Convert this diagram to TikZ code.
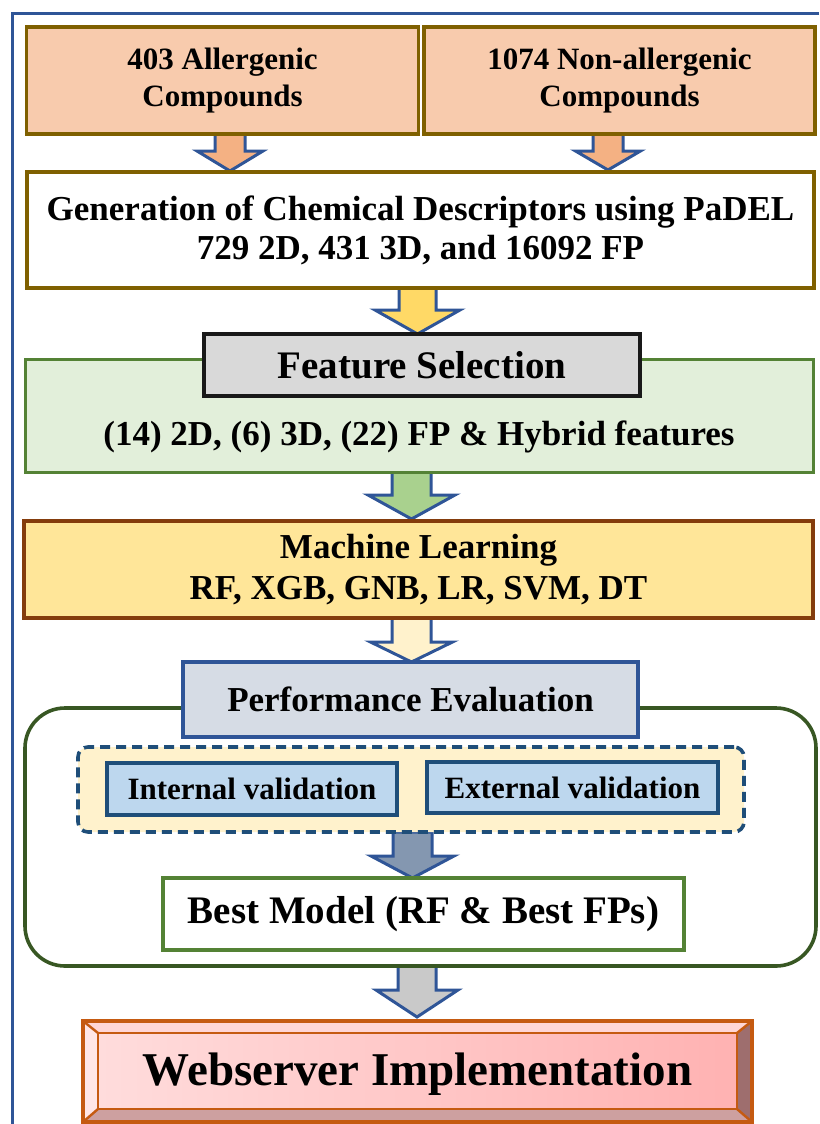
\documentclass[tikz,border=0pt]{standalone}
\usepackage{fontspec}
\setmainfont{Liberation Serif}
\usetikzlibrary{calc,backgrounds}
\definecolor{framecol}{HTML}{2F5597}
\definecolor{olivecol}{HTML}{7F6000}
\definecolor{peach}{HTML}{F8CBAD}
\definecolor{greenfill}{HTML}{E2EFDA}
\definecolor{greenline}{HTML}{548235}
\definecolor{darkgreen}{HTML}{385723}
\definecolor{mlfill}{HTML}{FFE699}
\definecolor{mlline}{HTML}{843C0C}
\definecolor{perffill}{HTML}{D6DCE5}
\definecolor{navy}{HTML}{1F4E79}
\definecolor{creamfill}{HTML}{FFF2CC}
\definecolor{bluefill}{HTML}{BDD7EE}
\definecolor{webline}{HTML}{C55A11}
\definecolor{aPeach}{HTML}{F4B183}
\definecolor{aYellow}{HTML}{FFD966}
\definecolor{aGreen}{HTML}{A9D18E}
\definecolor{aBlue}{HTML}{8497B0}
\definecolor{aGray}{HTML}{C9C9C9}
\definecolor{bevTop}{HTML}{FFD6D6}
\definecolor{bevLeft}{HTML}{FFE6E6}
\definecolor{bevBottom}{HTML}{CDA0A0}
\definecolor{bevRight}{HTML}{9E6E6E}
\definecolor{faceL}{HTML}{FFDCDC}
\definecolor{faceR}{HTML}{FFB2B2}
\newcommand{\blockarr}[6]{\draw[arrowline, fill=#6] ($(#1)+(-#3,0)$) -- ($(#1)+(#3,0)$) -- ($(#2)+(#3,-#5)$) -- ($(#2)+(#4,-#5)$) -- (#2) -- ($(#2)+(-#4,-#5)$) -- ($(#2)+(-#3,-#5)$) -- cycle;}
\begin{document}
\begin{tikzpicture}[x=1pt,y=-1pt,
  box/.style={draw, line width=3.6pt, inner sep=0pt, outer sep=0pt, align=center},
  arrowline/.style={draw=framecol, line width=3pt, line join=miter},
  fA/.style={font=\fontsize{31}{37}\selectfont\bfseries},
  fB/.style={font=\fontsize{35}{39}\selectfont\bfseries},
  fC/.style={font=\fontsize{39}{44}\selectfont\bfseries},
  fD/.style={font=\fontsize{47}{52}\selectfont\bfseries}]
\useasboundingbox (0,0) rectangle (819,1124);
% outer frame
\draw[framecol, line width=3pt] (819,13.5) -- (12.5,13.5) -- (12.5,1124);

% boxes
\node[box, fA, draw=olivecol, fill=peach, minimum width=392pt, minimum height=107pt] (A) at (222.5,80.5) {403 Allergenic\\Compounds};
\node[box, fA, draw=olivecol, fill=peach, minimum width=391pt, minimum height=107pt] (B) at (619.5,80.5) {1074 Non-allergenic\\Compounds};
\node[box, fB, draw=olivecol, fill=white, minimum width=787pt, minimum height=116pt] (C) at (420.5,230) {Generation of Chemical Descriptors using PaDEL\\729 2D, 431 3D, and 16092 FP};
\node[box, draw=greenline, line width=3pt, fill=greenfill, minimum width=788pt, minimum height=113pt] (G) at (419,415.5) {};
\node[fB] (Gt) at (419,437) {(14) 2D, (6) 3D, (22) FP \& Hybrid features};
\node[box, fC, draw=black!90, fill=black!15, minimum width=436pt, minimum height=62pt] (FS) at (422,365) {Feature Selection};
\node[box, font=\fontsize{35}{41}\selectfont\bfseries, draw=mlline, line width=3.2pt, fill=mlfill, minimum width=789pt, minimum height=97pt] (ML) at (418.5,569.5) {Machine Learning\\RF, XGB, GNB, LR, SVM, DT};
\node[box, draw=darkgreen, rounded corners=40pt, minimum width=791pt, minimum height=258pt] (R) at (420.5,837) {};
\node[box, fB, draw=framecol, fill=perffill, minimum width=455pt, minimum height=75pt] (Perf) at (410.5,699.5) {Performance Evaluation};
\node[box, draw=navy, fill=creamfill, dash pattern=on 10pt off 6pt, rounded corners=10pt, minimum width=666pt, minimum height=85pt] (D) at (411,789.5) {};
\node[box, fA, draw=navy, fill=bluefill, minimum width=290pt, minimum height=52pt] (Int) at (252,789) {Internal validation};
\node[box, fA, draw=navy, fill=bluefill, minimum width=291pt, minimum height=51pt] (Ext) at (572.5,787.5) {External validation};
\node[box, fC, draw=greenline, fill=white, minimum width=521pt, minimum height=72pt] (Best) at (423.5,914) {Best Model (RF \& Best FPs)};
\node[box, fD, draw=webline, minimum width=669pt, minimum height=101pt, text depth=4pt] (Web) at (417.5,1071.5) {Webserver Implementation};

% bevel of the webserver box
\coordinate (w1) at ($(Web.north west)+(15,12)$);
\coordinate (w2) at ($(Web.north east)+(-15,12)$);
\coordinate (w3) at ($(Web.south east)+(-15,-13)$);
\coordinate (w4) at ($(Web.south west)+(15,-13)$);
\begin{pgfonlayer}{background}
\fill[bevTop] (Web.north west) -- (Web.north east) -- (w2) -- (w1) -- cycle;
\fill[bevLeft] (Web.north west) -- (w1) -- (w4) -- (Web.south west) -- cycle;
\fill[bevBottom] (Web.south west) -- (w4) -- (w3) -- (Web.south east) -- cycle;
\fill[bevRight] (Web.north east) -- (Web.south east) -- (w3) -- (w2) -- cycle;
\shade[left color=faceL, right color=faceR] (w1) rectangle (w3);
\end{pgfonlayer}
\draw[webline, line width=2.4pt] (w1) rectangle (w3);
\draw[webline, line width=2.4pt] (Web.north west) -- (w1) (Web.north east) -- (w2) (Web.south east) -- (w3) (Web.south west) -- (w4);

% block arrows
\coordinate (s1) at ($(A.south)+(7.5,0)$);   \coordinate (e1) at ($(s1 |- C.north)+(0,-1)$);
\coordinate (s2) at ($(B.south)+(-11.5,0)$); \coordinate (e2) at ($(s2 |- C.north)+(0,-2)$);
\coordinate (s3) at ($(C.south)+(-3,0)$);    \coordinate (e3) at (s3 |- FS.north);
\coordinate (s4) at ($(G.south)+(-7.5,0)$);  \coordinate (e4) at ($(s4 |- ML.north)+(0,-2)$);
\coordinate (s5) at ($(ML.south)+(-7,0)$);   \coordinate (e5) at (s5 |- Perf.north);
\coordinate (s6) at ($(D.south)+(1.5,0)$);   \coordinate (e6) at (s6 |- Best.north);
\coordinate (s7) at ($(R.south)+(-3.5,0)$);  \coordinate (e7) at ($(s7 |- Web.north)+(0,-4)$);
\begin{pgfonlayer}{background}
\blockarr{s1}{e1}{15}{33}{20}{aPeach}
\blockarr{s2}{e2}{15}{32.5}{19}{aPeach}
\blockarr{s3}{e3}{18.5}{42.5}{24}{aYellow}
\blockarr{s4}{e4}{19.5}{43.5}{24}{aGreen}
\blockarr{s5}{e5}{19.5}{41}{20}{creamfill}
\blockarr{s6}{e6}{19.5}{41.5}{22}{aBlue}
\blockarr{s7}{e7}{19}{41}{27}{aGray}
\end{pgfonlayer}
\end{tikzpicture}
\end{document}
